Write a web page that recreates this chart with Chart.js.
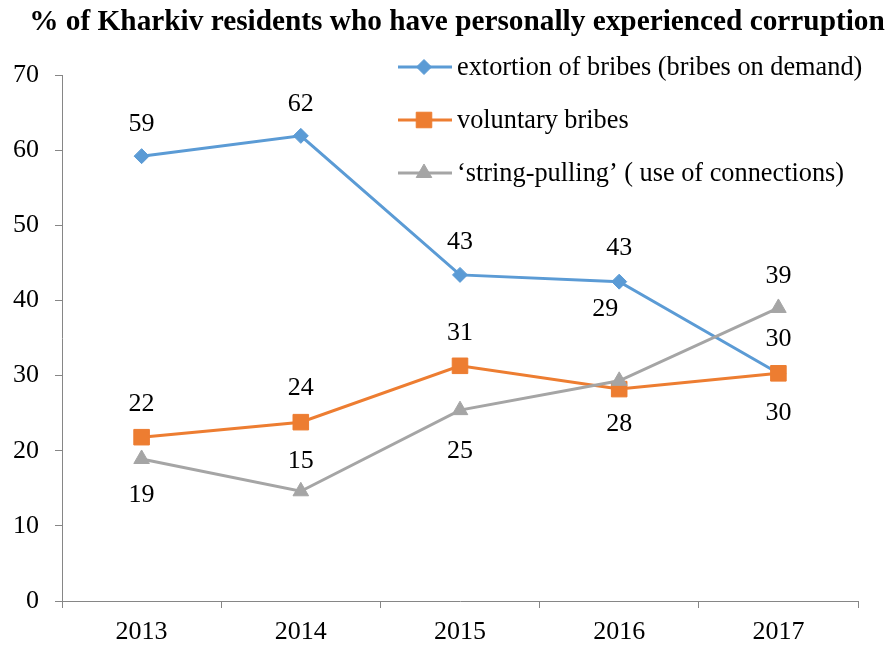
<!DOCTYPE html>
<html>
<head>
<meta charset="utf-8">
<script src="https://cdn.jsdelivr.net/npm/chart.js@4"></script>
<style>
  html, body { margin: 0; padding: 0; background: #fff; }
  #wrap { width: 895px; height: 645px; position: relative; }
</style>
</head>
<body>
<div id="wrap"><canvas id="grafico" width="895" height="645"></canvas></div>
<script>
// Datos
const years = ['2013', '2014', '2015', '2016', '2017']
const extortion = [59.2, 61.9, 43.4, 42.5, 30.3]
const voluntary = [21.8, 23.8, 31.3, 28.2, 30.3]
const stringPulling = [18.9, 14.6, 25.4, 29.3, 39.0]
const seriesNames = [
  'extortion of bribes (bribes on demand)',
  'voluntary bribes',
  '\u2018string-pulling\u2019 ( use of connections)'
]
const yTicks = [0, 10, 20, 30, 40, 50, 60, 70]

const titulo = '% of Kharkiv residents who have personally experienced corruption'
const fuente = '"Liberation Serif", "Times New Roman", serif'

// desplazamiento de etiquetas (dx, dy) respecto al punto
const labelOffsets = [
  [[0, -33], [0, -33], [0, -34], [0, -34], [0, -35]],
  [[0, -34], [0, -35], [0, -34], [0, 34], [0, 39]],
  [[0, 35], [0, -31], [0, 40], [-14, -73], [0, -33]]
]

// Etiquetas de datos
const etiquetas = {
  id: 'etiquetas',
  afterDatasetsDraw(chart) {
    const c = chart.ctx
    c.save()
    c.font = '26px ' + fuente
    c.fillStyle = '#000'
    c.textAlign = 'center'
    c.textBaseline = 'middle'
    chart.data.datasets.forEach((ds, i) => {
      chart.getDatasetMeta(i).data.forEach((pt, j) => {
        const [dx, dy] = labelOffsets[i][j]
        c.fillText(Math.round(ds.data[j]), pt.x + dx, pt.y + dy + 1)
      })
    })
    c.restore()
  }
}

// Titulo y leyenda dibujados a mano
const extras = {
  id: 'extras',
  afterDraw(chart) {
    const c = chart.ctx
    c.save()
    c.font = 'bold 29.3px ' + fuente
    c.fillStyle = '#000'
    c.textAlign = 'center'
    c.textBaseline = 'middle'
    c.fillText(titulo, 457, 22)

    const filas = [67, 120, 173]
    chart.data.datasets.forEach((ds, i) => {
      const y = filas[i]
      c.strokeStyle = ds.borderColor
      c.lineWidth = 3
      c.beginPath()
      c.moveTo(398, y)
      c.lineTo(452, y)
      c.stroke()
      c.fillStyle = ds.backgroundColor
      c.strokeStyle = ds.backgroundColor
      c.lineWidth = 1
      Chart.helpers.drawPoint(c, {
        pointStyle: ds.pointStyle,
        radius: ds.pointRadius,
        rotation: 0,
        borderWidth: 1
      }, 424, y)
      c.fillStyle = '#000'
      c.font = '26.3px ' + fuente
      c.textAlign = 'left'
      c.fillText(seriesNames[i], 457, y + 1)
    })
    c.restore()
  }
}

const ctx = document.getElementById('grafico')
const ejeColor = '#868686'

new Chart(ctx, {
  type: 'line',
  data: {
    labels: years,
    datasets: [
      { label: seriesNames[0], data: extortion, borderColor: '#5B9BD5', backgroundColor: '#5B9BD5',
        pointStyle: 'rectRot', pointRadius: 7.5, order: 3 },
      { label: seriesNames[1], data: voluntary, borderColor: '#ED7D31', backgroundColor: '#ED7D31',
        pointStyle: 'rect', pointRadius: 11, order: 2 },
      { label: seriesNames[2], data: stringPulling, borderColor: '#A5A5A5', backgroundColor: '#A5A5A5',
        pointStyle: 'triangle', pointRadius: 9, order: 1 }
    ].map(d => ({ ...d, borderWidth: 3, tension: 0, pointBorderWidth: 1,
      pointBorderColor: d.borderColor, pointBackgroundColor: d.backgroundColor }))
  },
  options: {
    responsive: false,
    animation: false,
    layout: { padding: { top: 75, right: 37, left: 2, bottom: 0 } },
    plugins: { legend: { display: false }, title: { display: false }, tooltip: { enabled: false } },
    scales: {
      x: {
        offset: true,
        afterFit: axis => { axis.height = 44 },
        grid: { display: true, drawOnChartArea: false, offset: true, color: ejeColor, tickLength: 7 },
        border: { color: ejeColor, width: 1 },
        ticks: { color: '#000', font: { family: fuente, size: 26 }, padding: 9 }
      },
      y: {
        min: 0, max: 70,
        afterBuildTicks: axis => { axis.ticks = yTicks.map(v => ({ value: v })) },
        afterFit: axis => { axis.width = 60 },
        grid: { display: true, drawOnChartArea: false, color: ejeColor, tickLength: 7 },
        border: { color: ejeColor, width: 1 },
        ticks: { color: '#000', font: { family: fuente, size: 26 }, padding: 16 }
      }
    }
  },
  plugins: [etiquetas, extras]
})
</script>
</body>
</html>
